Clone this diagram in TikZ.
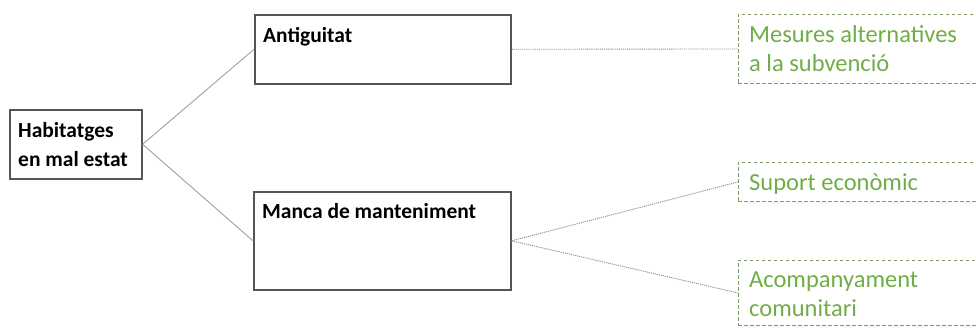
\documentclass[tikz,border=0pt]{standalone}
\usepackage{fontspec}
\setmainfont{Carlito}
\definecolor{boxgrey}{HTML}{555555}
\definecolor{linegrey}{HTML}{A0A0A0}
\definecolor{offgreen}{HTML}{70AD47}
\definecolor{dashgreen}{HTML}{7F9A6A}
\definecolor{dotgrey}{HTML}{8E9984}
\tikzset{
  causebox/.style={draw=boxgrey, line width=1.6pt, fill=white, inner sep=0pt, anchor=north west},
  measbox/.style={draw=dashgreen, dash pattern=on 3.5pt off 2.5pt, line width=0.9pt, inner sep=0pt, anchor=north west},
  blacktext/.style={font=\fontsize{21.5}{29}\selectfont\bfseries, text=black, align=left, anchor=base west, inner sep=0pt},
  greentext/.style={font=\fontsize{24.5}{29}\selectfont, text=offgreen, align=left, anchor=base west, inner sep=0pt},
  solidlink/.style={draw=linegrey, line width=0.9pt},
  dotlink/.style={draw=dotgrey, dash pattern=on 1.2pt off 0.9pt, line width=0.9pt}
}
\begin{document}
\begin{tikzpicture}[x=1pt,y=-1pt]
\useasboundingbox (0,0) rectangle (976,327);
\clip (0,0) rectangle (976,327);
% boxes
\node[causebox, minimum width=132pt, minimum height=69pt] (hab) at (9,109) {};
\node[causebox, minimum width=256pt, minimum height=69pt] (ant) at (254,14) {};
\node[causebox, minimum width=257pt, minimum height=98pt] (man) at (253,191) {};
\node[measbox, minimum width=260pt, minimum height=69pt] (mes) at (738,14) {};
\node[measbox, minimum width=260pt, minimum height=39pt] (sup) at (738,162) {};
\node[measbox, minimum width=260pt, minimum height=65pt] (aco) at (738,260) {};
% texts (base anchor = baseline of last line)
\node[blacktext] (habt) at (18,166) {Habitatges\\en mal estat};
\node[blacktext] (antt) at (263,42) {Antiguitat};
\node[blacktext] (mant) at (262,218) {Manca de manteniment};
\node[greentext] (mest) at (749,71) {Mesures alternatives\\a la subvenció};
\node[greentext] (supt) at (749,190) {Suport econòmic};
\node[greentext] (acot) at (749,316) {Acompanyament\\comunitari};
% connectors
\draw[solidlink] (hab.east) -- (ant.west);
\draw[solidlink] (hab.east) -- (man.west);
\draw[dotlink] (ant.east) -- (mes.west);
\draw[dotlink] (man.east) -- (sup.west);
\draw[dotlink] (man.east) -- (aco.west);
\end{tikzpicture}
\end{document}
